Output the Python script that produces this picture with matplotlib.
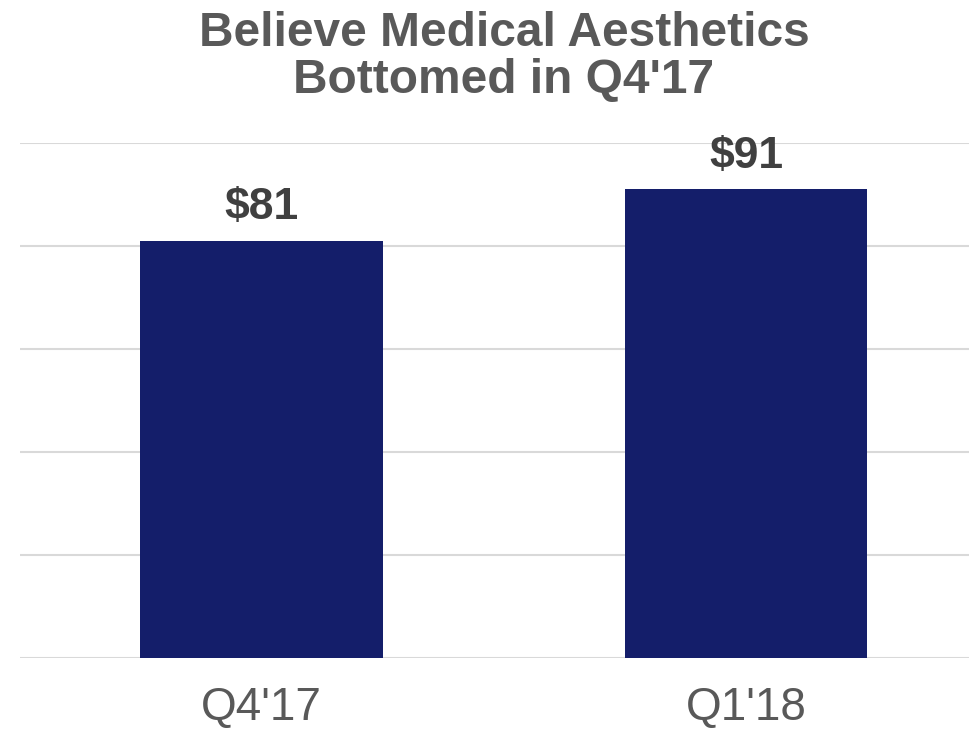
import matplotlib
matplotlib.use("Agg")
import matplotlib.pyplot as plt

categories = ["Q4'17", "Q1'18"]
values = [81, 91]
value_labels = ["$81", "$91"]
title = "Believe Medical Aesthetics\nBottomed in Q4'17"

plt.rcParams["font.family"] = ["Liberation Sans", "DejaVu Sans"]

fig = plt.figure(figsize=(9.69, 7.34), dpi=100)
ax = fig.add_axes([20 / 969, 76 / 734, 949 / 969, 515 / 734])

x = list(range(len(categories)))
bars = ax.bar(x, values, width=0.5, color="#141E6A", zorder=3)

ax.set_ylim(0, 100)
ax.set_xlim(-0.498, 1.46)
ax.set_yticks([0, 20, 40, 60, 80, 100])
ax.yaxis.grid(True, color="#D9D9D9", linewidth=1.5, zorder=0)
ax.tick_params(axis="y", left=False, labelleft=False)
ax.tick_params(axis="x", bottom=False, pad=17)
ax.set_xticks(x)
ax.set_xticklabels(categories, fontsize=33, color="#595959")
for s in ax.spines.values():
    s.set_visible(False)

for bar, lab in zip(bars, value_labels):
    ax.annotate(lab, (bar.get_x() + bar.get_width() / 2, bar.get_height()),
                xytext=(0, 9), textcoords="offset points", ha="center", va="bottom",
                fontsize=32, fontweight="bold", color="#404040")

fig.text(504 / 969, 1 - 57 / 734, title, ha="center", va="center",
         fontsize=34.5, fontweight="bold", color="#595959", linespacing=1.08)

fig.savefig("out.png", dpi=100)
